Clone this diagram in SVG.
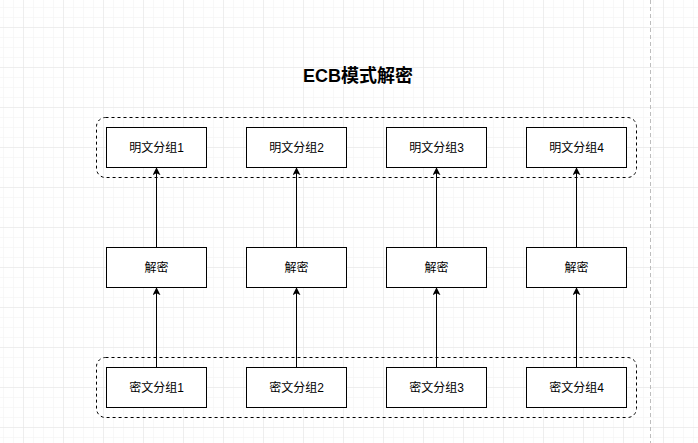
<svg xmlns="http://www.w3.org/2000/svg" width="698" height="443" viewBox="0 0 698 443">
  <defs>
    <pattern id="minor" x="3" y="7" width="10" height="10" patternUnits="userSpaceOnUse">
      <path d="M0 0H10M0 0V10" fill="none" stroke="#f2f2f2" stroke-width="1"/>
    </pattern>
    <pattern id="major" x="23" y="27" width="40" height="40" patternUnits="userSpaceOnUse">
      <path d="M0 0H40M0 0V40" fill="none" stroke="#e4e4e4" stroke-width="1"/>
    </pattern>
    <marker id="arrow" viewBox="0 0 10 10" refX="9" refY="5" markerWidth="8" markerHeight="8" orient="auto" markerUnits="userSpaceOnUse">
      <path d="M0 0L10 5L0 10L2.5 5Z" fill="#000"/>
    </marker>
  </defs>
  <style>
    .box { fill: #fff; stroke: #000; stroke-width: 1; }
    .group { fill: none; stroke: #000; stroke-width: 1; stroke-dasharray: 3 3; }
    .lbl { font-family: "Liberation Sans", "Noto Sans CJK SC", sans-serif; font-size: 12px; fill: #000; text-anchor: middle; dominant-baseline: central; }
    .title { font-family: "Liberation Sans", "Noto Sans CJK SC", sans-serif; font-size: 18px; font-weight: bold; fill: #000; text-anchor: middle; }
    .edge { stroke: #000; stroke-width: 1; fill: none; marker-end: url(#arrow); }
  </style>

  <!-- background grid -->
  <rect width="698" height="443" fill="#fff"/>
  <rect width="698" height="443" fill="url(#minor)"/>
  <rect width="698" height="443" fill="url(#major)"/>
  <!-- page break line -->
  <line x1="650.5" y1="0" x2="650.5" y2="443" stroke="#bdbdbd" stroke-width="1" stroke-dasharray="4 3"/>

  <text class="title" x="358" y="82">ECB模式解密</text>

  <!-- dashed containers -->
  <g id="plain-group"><rect class="group" x="96.5" y="117.5" width="540" height="60" rx="9"/></g>
  <g id="cipher-group"><rect class="group" x="96.5" y="357.5" width="540" height="60" rx="9"/></g>

  <g id="edges">
    <line class="edge" x1="156.5" y1="367" x2="156.5" y2="288"/>
    <line class="edge" x1="296.5" y1="367" x2="296.5" y2="288"/>
    <line class="edge" x1="436.5" y1="367" x2="436.5" y2="288"/>
    <line class="edge" x1="576.5" y1="367" x2="576.5" y2="288"/>
    <line class="edge" x1="156.5" y1="247" x2="156.5" y2="168"/>
    <line class="edge" x1="296.5" y1="247" x2="296.5" y2="168"/>
    <line class="edge" x1="436.5" y1="247" x2="436.5" y2="168"/>
    <line class="edge" x1="576.5" y1="247" x2="576.5" y2="168"/>
  </g>

  <g id="p1"><rect class="box" x="106.5" y="127.5" width="100" height="40"/><text class="lbl" x="156.5" y="147.5">明文分组1</text></g>
  <g id="p2"><rect class="box" x="246.5" y="127.5" width="100" height="40"/><text class="lbl" x="296.5" y="147.5">明文分组2</text></g>
  <g id="p3"><rect class="box" x="386.5" y="127.5" width="100" height="40"/><text class="lbl" x="436.5" y="147.5">明文分组3</text></g>
  <g id="p4"><rect class="box" x="526.5" y="127.5" width="100" height="40"/><text class="lbl" x="576.5" y="147.5">明文分组4</text></g>

  <g id="d1"><rect class="box" x="106.5" y="247.5" width="100" height="40"/><text class="lbl" x="156.5" y="267.5">解密</text></g>
  <g id="d2"><rect class="box" x="246.5" y="247.5" width="100" height="40"/><text class="lbl" x="296.5" y="267.5">解密</text></g>
  <g id="d3"><rect class="box" x="386.5" y="247.5" width="100" height="40"/><text class="lbl" x="436.5" y="267.5">解密</text></g>
  <g id="d4"><rect class="box" x="526.5" y="247.5" width="100" height="40"/><text class="lbl" x="576.5" y="267.5">解密</text></g>

  <g id="c1"><rect class="box" x="106.5" y="367.5" width="100" height="40"/><text class="lbl" x="156.5" y="387.5">密文分组1</text></g>
  <g id="c2"><rect class="box" x="246.5" y="367.5" width="100" height="40"/><text class="lbl" x="296.5" y="387.5">密文分组2</text></g>
  <g id="c3"><rect class="box" x="386.5" y="367.5" width="100" height="40"/><text class="lbl" x="436.5" y="387.5">密文分组3</text></g>
  <g id="c4"><rect class="box" x="526.5" y="367.5" width="100" height="40"/><text class="lbl" x="576.5" y="387.5">密文分组4</text></g>
</svg>
